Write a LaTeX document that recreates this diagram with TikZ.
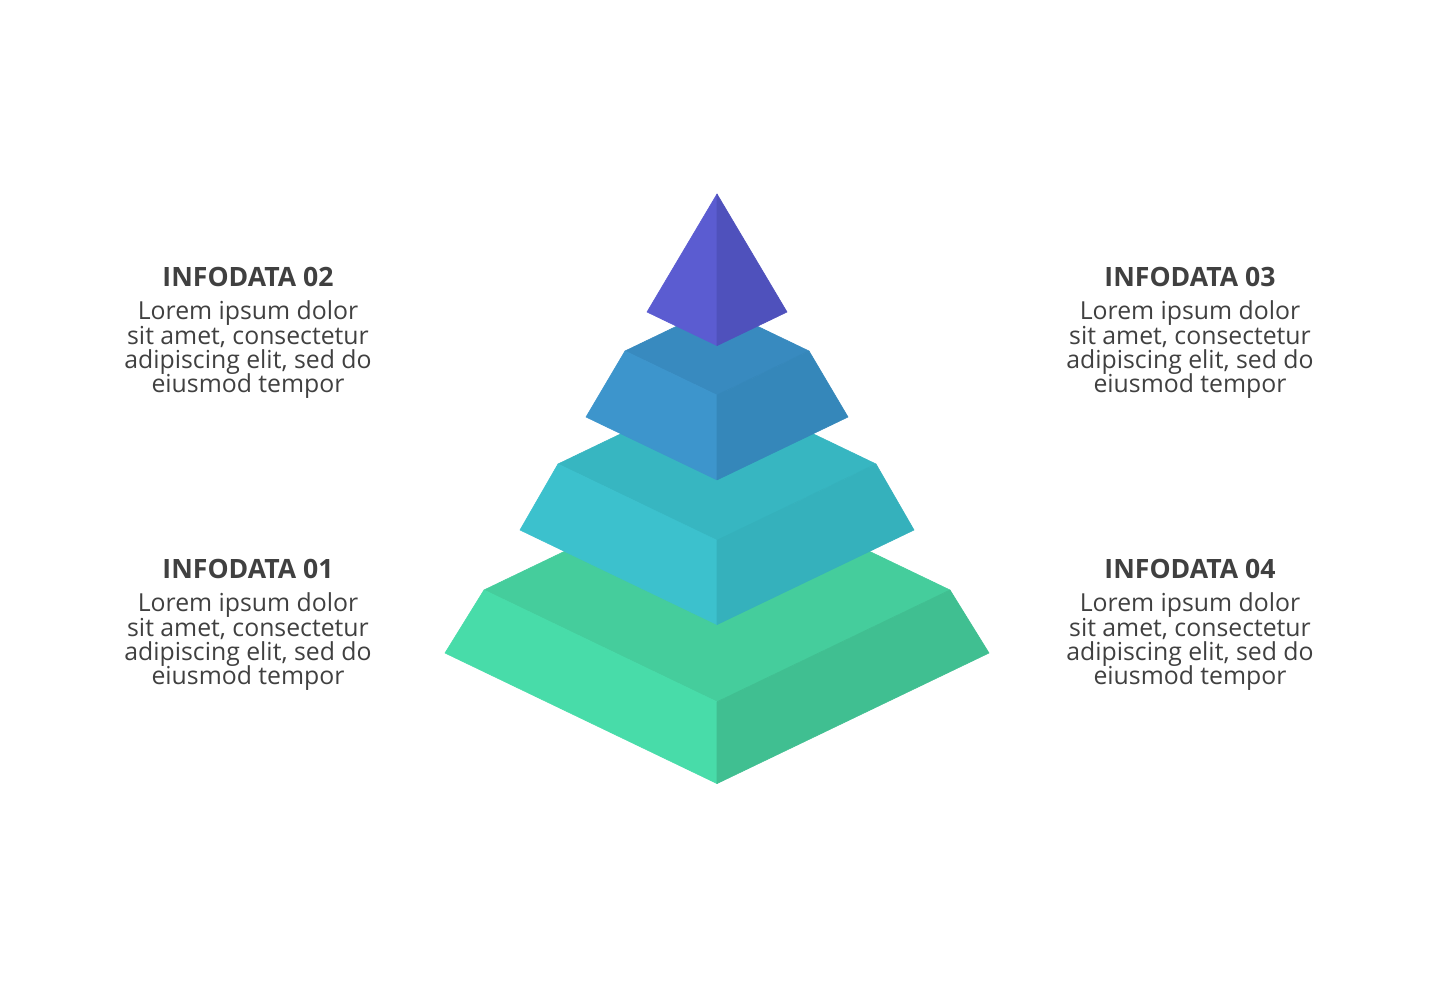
\documentclass[tikz,border=0pt]{standalone}
\usepackage{fontspec}
\setmainfont{Open Sans}
\usetikzlibrary{positioning}
\definecolor{txtgray}{HTML}{404040}
\definecolor{purpleleft}{HTML}{5B5CD1}
\definecolor{purpleright}{HTML}{4F51BC}
\definecolor{bluetop}{HTML}{388ABF}
\definecolor{blueleft}{HTML}{3D95CC}
\definecolor{blueright}{HTML}{3587BA}
\definecolor{tealtop}{HTML}{37B6C1}
\definecolor{tealleft}{HTML}{3CC1CD}
\definecolor{tealright}{HTML}{35B1BC}
\definecolor{greentop}{HTML}{45CD9C}
\definecolor{greenleft}{HTML}{48DCA9}
\definecolor{greenright}{HTML}{40BF91}
\newcommand\infofont{\fontsize{12.4}{12.1}\selectfont\lineskiplimit=-10pt\relax}
\begin{document}
\begin{tikzpicture}[x=0.5pt,y=-0.5pt,line join=round,
  infotitle/.style={font=\fontsize{13.3}{15}\selectfont\bfseries,text=txtgray,inner sep=0pt},
  infotext/.style={font=\infofont,text=txtgray,align=center,inner sep=0pt}]
\useasboundingbox (0,0) rectangle (1435,980);
% tiers, bottom first
\foreach \yt/\wt/\yb/\wb/\tc in {590/233/653/272/green,464/159/530/197/teal,351/92/417/131/blue}{
  \filldraw[fill=\tc top,draw=\tc top,line width=0.3pt] ({717-\wt},\yt) -- (717,{\yt-0.48*\wt}) -- ({717+\wt},\yt) -- (717,{\yt+0.48*\wt}) -- cycle;
  \filldraw[fill=\tc left,draw=\tc left,line width=0.3pt] ({717-\wt},\yt) -- ({717-\wb},\yb) -- (717,{\yb+0.48*\wb}) -- (717,{\yt+0.48*\wt}) -- cycle;
  \filldraw[fill=\tc right,draw=\tc right,line width=0.3pt] (717,{\yt+0.48*\wt}) -- (717,{\yb+0.48*\wb}) -- ({717+\wb},\yb) -- ({717+\wt},\yt) -- cycle;
}
% top
\filldraw[fill=purpleleft,draw=purpleleft,line width=0.3pt] (717,194) -- (647,312) -- (717,345.6) -- cycle;
\filldraw[fill=purpleright,draw=purpleright,line width=0.3pt] (717,194) -- (717,345.6) -- (787,312) -- cycle;

\node[infotitle,anchor=base] (title02) at (248,286) {INFODATA 02};
\node[infotext,below=7pt of title02] (text02) {Lorem ipsum dolor\\sit amet, consectetur\\adipiscing elit, sed do\\eiusmod tempor};
\node[infotitle,anchor=base] (title03) at (1190,286) {INFODATA 03};
\node[infotext,below=7pt of title03] (text03) {Lorem ipsum dolor\\sit amet, consectetur\\adipiscing elit, sed do\\eiusmod tempor};
\node[infotitle,anchor=base] (title01) at (248,578) {INFODATA 01};
\node[infotext,below=7pt of title01] (text01) {Lorem ipsum dolor\\sit amet, consectetur\\adipiscing elit, sed do\\eiusmod tempor};
\node[infotitle,anchor=base] (title04) at (1190,578) {INFODATA 04};
\node[infotext,below=7pt of title04] (text04) {Lorem ipsum dolor\\sit amet, consectetur\\adipiscing elit, sed do\\eiusmod tempor};
\end{tikzpicture}
\end{document}
